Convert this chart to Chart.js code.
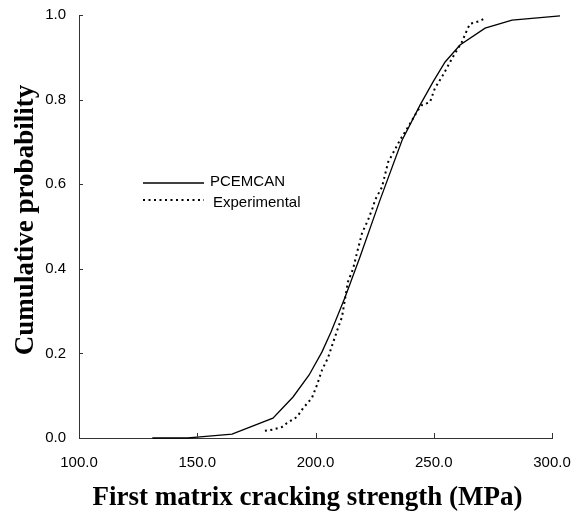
<!DOCTYPE html>
<html>
<head>
<meta charset="utf-8">
<script src="https://cdn.jsdelivr.net/npm/chart.js@4.4.0/dist/chart.umd.min.js"></script>
<style>
html,body{margin:0;padding:0;background:#fff;}
#wrap{width:573px;height:514px;position:relative;}
</style>
</head>
<body>
<div id="wrap"><canvas id="c" width="573" height="514"></canvas></div>
<script>
// PCEMCAN (model) curve
const pcemcanX = [131, 146, 150, 164.7, 182, 190.5, 197.3, 202.7, 206.6, 212.5, 218.8, 227.3, 236.6, 244.2, 249.7, 254.8, 261.1, 271.7, 283.1, 303.4];
const pcemcanY = [0, 0, 0.002, 0.009, 0.047, 0.097, 0.149, 0.203, 0.251, 0.333, 0.428, 0.563, 0.704, 0.787, 0.842, 0.889, 0.929, 0.969, 0.988, 0.998];
// Experimental curve
const expX = [178.6, 182, 185.8, 187.9, 192.2, 194.7, 198.5, 200.6, 202.7, 205.3, 207.4, 209.5, 211.2, 213.7, 215.9, 217.5, 219.7, 222.2, 224.3, 225.2, 228.1, 230.7, 235.7, 239.1, 243.3, 245, 248.4, 250.5, 253.9, 258.1, 261.9, 264.1, 265.3, 269.6, 271.7];
const expY = [0.017, 0.02, 0.026, 0.035, 0.05, 0.07, 0.095, 0.125, 0.16, 0.19, 0.225, 0.26, 0.286, 0.369, 0.40, 0.437, 0.485, 0.515, 0.546, 0.563, 0.593, 0.652, 0.704, 0.735, 0.775, 0.787, 0.794, 0.827, 0.858, 0.901, 0.936, 0.965, 0.979, 0.986, 0.993];
// Axis ticks
const xTicks = [100, 150, 200, 250, 300];
const yTicks = [0, 0.2, 0.4, 0.6, 0.8, 1.0];
const seriesNames = ['PCEMCAN', 'Experimental'];
const xTitle = 'First matrix cracking strength (MPa)';
const yTitle = 'Cumulative probability';

const toPts = (xs, ys) => xs.map((x, i) => ({x: x, y: ys[i]}));

const innerTicks = {
  id: 'innerTicks',
  afterDatasetsDraw(chart) {
    const ctx = chart.ctx, xs = chart.scales.x, ys = chart.scales.y;
    ctx.save();
    ctx.strokeStyle = '#333';
    ctx.lineWidth = 1;
    ctx.beginPath();
    xTicks.forEach(v => {
      if (v === xTicks[0]) return;
      const px = Math.round(xs.getPixelForValue(v)) + 0.5;
      ctx.moveTo(px, ys.bottom);
      ctx.lineTo(px, ys.bottom - 5);
    });
    yTicks.forEach(v => {
      if (v === yTicks[0]) return;
      const py = Math.round(ys.getPixelForValue(v)) + 0.5;
      ctx.moveTo(xs.left, py);
      ctx.lineTo(xs.left + 4, py);
    });
    ctx.stroke();
    ctx.restore();
  }
};

const axisTitles = {
  id: 'axisTitles',
  afterDraw(chart) {
    const ctx = chart.ctx, xs = chart.scales.x, ys = chart.scales.y;
    ctx.save();
    ctx.fillStyle = '#000';
    ctx.font = 'bold 27px "Liberation Serif", "Times New Roman", serif';
    ctx.textAlign = 'center';
    ctx.textBaseline = 'alphabetic';
    ctx.fillText(xTitle, xs.left + 228.5, ys.bottom + 67);
    ctx.translate(33, ys.top + 205);
    ctx.rotate(-Math.PI / 2);
    ctx.fillText(yTitle, 0, 0);
    ctx.restore();
  }
};

const legendPlugin = {
  id: 'customLegend',
  afterDatasetsDraw(chart) {
    const ctx = chart.ctx, xs = chart.scales.x, ys = chart.scales.y;
    const x0 = xs.left + 64, x1 = xs.left + 125;
    const rows = [
      {y: ys.top + 168, dash: [], w: 1.3, tx: x1 + 6, ty: ys.top + 167},
      {y: ys.top + 185, dash: [2, 3.5], w: 2, tx: x1 + 9, ty: ys.top + 188}
    ];
    ctx.save();
    rows.forEach((r, i) => {
      ctx.beginPath();
      ctx.setLineDash(r.dash);
      ctx.lineWidth = r.w;
      ctx.strokeStyle = '#000';
      ctx.moveTo(x0, r.y);
      ctx.lineTo(x1, r.y);
      ctx.stroke();
      ctx.setLineDash([]);
      ctx.fillStyle = '#000';
      ctx.font = '15px "Liberation Sans", Arial, sans-serif';
      ctx.textBaseline = 'middle';
      ctx.textAlign = 'left';
      ctx.fillText(seriesNames[i], r.tx, r.ty);
    });
    ctx.restore();
  }
};

new Chart(document.getElementById('c'), {
  type: 'scatter',
  data: {
    datasets: [
      {label: seriesNames[0], data: toPts(pcemcanX, pcemcanY), showLine: true, borderColor: '#000', borderWidth: 1.3, pointRadius: 0, tension: 0, clip: false},
      {label: seriesNames[1], data: toPts(expX, expY), showLine: true, borderColor: '#000', borderWidth: 2, borderDash: [2, 3.5], pointRadius: 0, tension: 0, clip: false}
    ]
  },
  options: {
    responsive: false,
    animation: false,
    devicePixelRatio: 1,
    layout: {padding: {left: 0, right: 21, top: 15, bottom: 0}},
    plugins: {legend: {display: false}, tooltip: {enabled: false}},
    scales: {
      x: {
        type: 'linear', min: 100, max: 300,
        afterBuildTicks: s => { s.ticks = xTicks.map(v => ({value: v})); },
        afterFit: s => { s.height = 76; s.paddingLeft = 0; s.paddingRight = 0; },
        ticks: {callback: v => v.toFixed(1), color: '#000', font: {family: '"Liberation Sans", Arial, sans-serif', size: 15}, padding: 16, maxRotation: 0, autoSkip: false},
        grid: {display: true, drawOnChartArea: false, drawTicks: false},
        border: {display: true, color: '#333', width: 1},
        title: {display: false, text: xTitle}
      },
      y: {
        type: 'linear', min: 0, max: 1,
        afterBuildTicks: s => { s.ticks = yTicks.map(v => ({value: v})); },
        afterFit: s => { s.width = 79; s.paddingTop = 0; s.paddingBottom = 0; },
        ticks: {callback: v => v.toFixed(1), color: '#000', font: {family: '"Liberation Sans", Arial, sans-serif', size: 15}, padding: 13},
        grid: {display: true, drawOnChartArea: false, drawTicks: false},
        border: {display: true, color: '#333', width: 1},
        title: {display: false, text: yTitle}
      }
    }
  },
  plugins: [innerTicks, legendPlugin, axisTitles]
});
</script>
</body>
</html>
